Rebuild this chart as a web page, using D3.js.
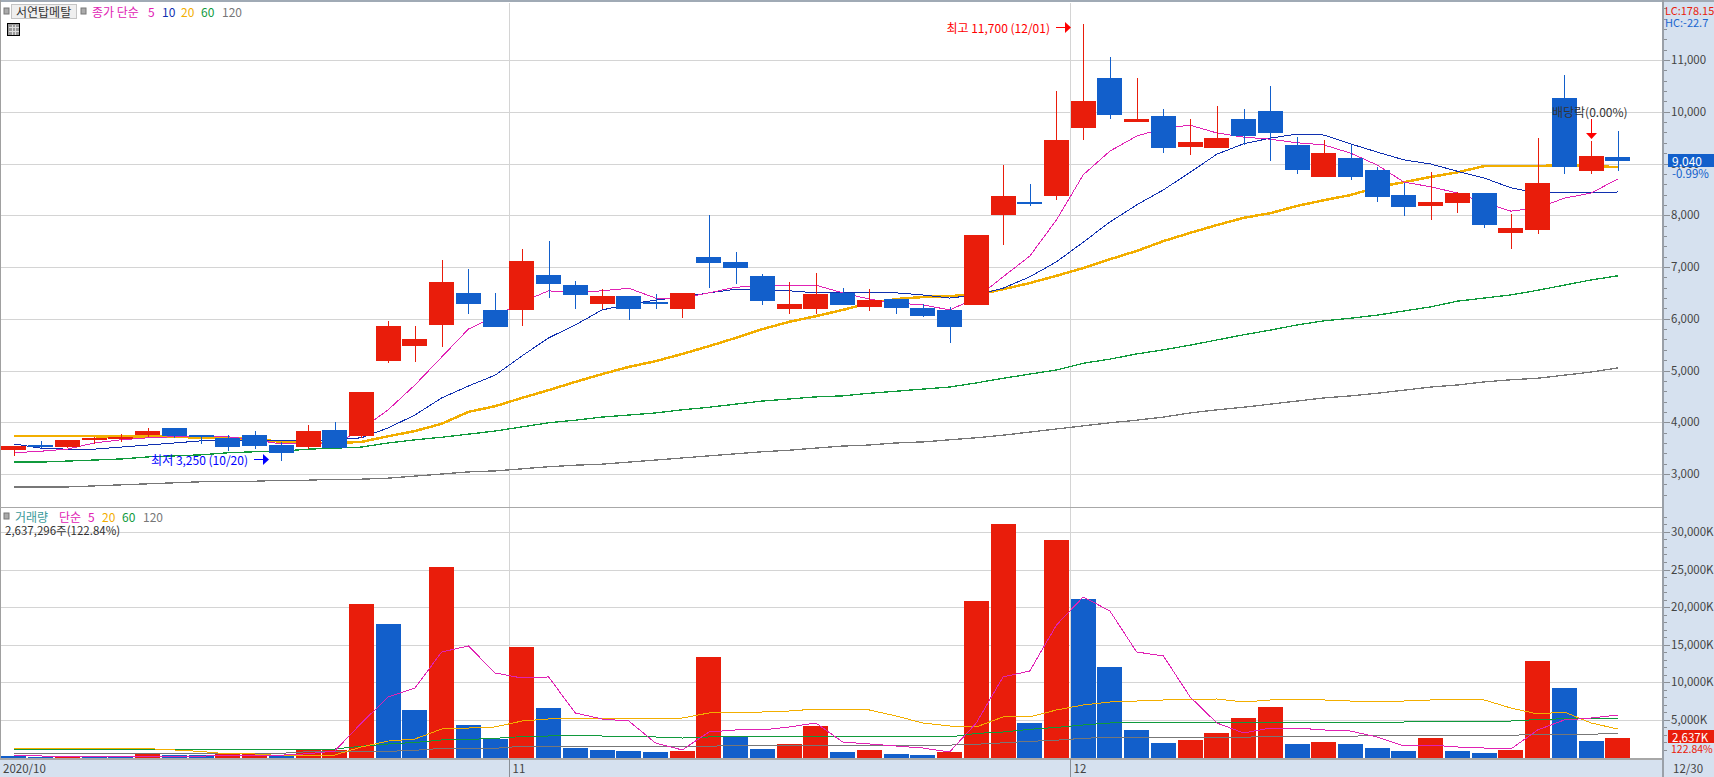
<!DOCTYPE html>
<html>
<head>
<meta charset="utf-8">
<script src="https://cdn.jsdelivr.net/npm/d3@7"></script>
<style>
html, body { margin: 0; padding: 0; background: #fff; overflow: hidden; }
svg { display: block; }
text { font-family: "Noto Sans CJK KR", "Noto Sans", sans-serif; font-size: 12px; }
.grid line { stroke: #d4d4d4; stroke-width: 1; shape-rendering: crispEdges; }
.axis path { display: none; }
.axis line { stroke: #8a8f96; shape-rendering: crispEdges; }
.axis text { fill: #444; font-size: 11.5px; }
.ma { fill: none; shape-rendering: crispEdges; }
</style>
</head>
<body>
<svg id="chart" width="1714" height="777"></svg>
<script>
// candles, 2020/10 .. 12/30
var opens = [3460,3560,3520,3660,3680,3750,3890,3750,3700,3750,3560,3520,3850,3730,5180,5470,5880,6500,6170,6170,6850,6650,6280,6440,6320,6190,7190,7100,6830,6190,6190,6500,6230,6380,6210,6170,6270,8000,8260,8370,9690,10650,9800,9920,9320,9300,9860,10010,9360,8740,9110,8870,8390,8180,8240,8430,7660,7710,10260,8850,9130];
var highs = [3540,3640,3660,3720,3770,3890,3890,3750,3750,3830,3620,3950,4000,4580,5960,5860,7130,6960,6500,7350,7500,6730,6570,6440,6480,6500,8000,7290,6860,6710,6880,6590,6570,6380,6280,6230,7620,8970,8600,10400,11700,11060,10650,10050,9860,10110,10050,10500,9510,9450,9360,8930,8620,8840,8450,8430,8020,9490,10710,9430,9630];
var lows = [3350,3500,3500,3580,3620,3720,3700,3580,3440,3480,3250,3480,3500,3700,5150,5160,5450,6090,5840,5860,6400,6190,6190,5980,6190,6010,6590,6670,6270,6090,6090,6270,6150,6090,6030,5530,6270,7420,8180,8290,9450,9860,9800,9200,9160,9300,9360,9050,8800,8740,8680,8260,7990,7910,8040,7750,7350,7640,8800,8800,8860];
var closes = [3540,3520,3660,3700,3720,3830,3730,3720,3520,3540,3410,3830,3500,4580,5860,5610,6710,6280,5840,7110,6670,6460,6440,6190,6280,6500,7080,6980,6340,6280,6480,6270,6360,6210,6050,5840,7620,8370,8220,9450,10210,9940,9860,9300,9410,9490,9530,9590,8870,9200,8740,8350,8160,8260,8430,7810,7750,8620,8930,9140,9040];

// price moving averages
var ma5 = [3410,3440,3480,3600,3660,3700,3720,3730,3720,3660,3580,3600,3560,3870,4240,4720,5260,5800,6050,6320,6540,6500,6540,6590,6400,6400,6500,6610,6630,6650,6650,6500,6380,6300,6270,6170,6400,6810,7210,7910,8780,9240,9530,9680,9740,9590,9510,9470,9400,9360,9200,8970,8640,8550,8430,8240,8080,8140,8330,8430,8700];
var ma10 = [3580,3500,3480,3480,3520,3560,3600,3640,3640,3640,3640,3640,3660,3700,3890,4140,4470,4700,4910,5280,5630,5880,6170,6280,6360,6420,6500,6570,6570,6540,6500,6500,6500,6500,6460,6400,6460,6590,6810,7100,7480,7870,8200,8490,8830,9180,9380,9490,9570,9550,9380,9220,9070,8990,8850,8720,8530,8430,8430,8430,8450];
var ma20 = [3730,3730,3730,3730,3720,3720,3720,3700,3700,3680,3620,3600,3600,3620,3730,3830,3970,4200,4310,4470,4620,4780,4930,5070,5180,5320,5470,5630,5800,5940,6050,6170,6300,6380,6420,6440,6460,6570,6690,6830,6980,7150,7310,7500,7660,7810,7950,8040,8180,8290,8390,8540,8640,8740,8830,8950,8950,8950,8970,8950,8930];
var ma60 = [3230,3230,3250,3270,3290,3330,3350,3370,3410,3430,3440,3480,3500,3520,3600,3660,3710,3770,3830,3910,3990,4040,4100,4140,4180,4240,4290,4350,4410,4450,4490,4510,4560,4600,4640,4680,4760,4850,4930,5010,5140,5220,5320,5400,5490,5590,5690,5780,5880,5960,6010,6070,6150,6230,6340,6400,6460,6550,6650,6750,6830];
var ma120 = [2750,2750,2750,2770,2790,2810,2830,2850,2850,2860,2880,2880,2900,2900,2920,2960,3000,3040,3060,3100,3140,3170,3190,3230,3270,3310,3350,3390,3430,3460,3500,3540,3560,3600,3620,3660,3700,3750,3810,3870,3930,3990,4040,4100,4180,4240,4290,4350,4410,4470,4510,4560,4620,4680,4720,4780,4820,4850,4910,4970,5050];

// volume in K and its moving averages
var volumes = [200,130,160,110,100,500,300,290,430,500,240,1000,1010,20420,17760,6320,25280,4320,2420,14700,6580,1260,1000,860,730,860,13370,2690,1130,1800,4190,730,1000,470,330,730,20810,31060,4590,28930,21080,12040,3660,1930,2330,3260,5250,6720,1800,2060,1800,1260,860,2590,860,600,1000,12830,9240,2190,2637];
var vol5 = [270,200,160,160,130,190,190,190,240,310,310,500,860,4590,8050,9240,14030,14830,11240,10570,10710,5920,5120,4850,1930,1000,3390,3660,3660,4060,4590,2060,1800,1530,1260,730,4590,10710,11500,17620,21350,19480,14030,13500,8050,4590,3260,3920,3920,3660,3520,2730,1530,1660,1400,1260,1130,3660,4990,5250,5650];
var vol20 = [1250,1250,1180,1180,1180,1180,1000,800,470,470,250,250,330,1400,2190,2460,3790,3920,4060,4850,5120,5120,5250,5250,5250,5250,5920,6050,6050,6180,6450,6320,6320,5520,4590,4190,4060,5390,5390,6320,6980,7380,7510,7650,7650,7780,7380,7650,7650,7650,7510,7510,7510,7650,7650,7650,6580,5790,6050,4590,3790];
var vol60 = [1130,1130,1130,1130,1130,1130,1130,1130,1130,1130,1130,1130,1130,1500,1800,2000,2330,2400,2550,2780,2860,2860,2860,2730,2730,2590,2730,2730,2730,2730,2730,2730,2730,2730,2730,2730,3200,3390,3750,4000,4320,4590,4590,4590,4590,4720,4720,4720,4720,4720,4720,4720,4720,4850,4850,4850,4850,5050,5150,5250,5250];
var vol120 = [560,560,560,560,560,560,560,560,560,560,560,770,800,820,820,950,1220,1220,1220,1490,1490,1490,1490,1490,1490,1490,1490,1620,1620,1620,1620,1620,1620,1620,1620,1650,1760,1950,2150,2300,2550,2690,2690,2690,2690,2690,2690,2820,2820,2820,2820,2950,2950,2950,2950,2950,2950,3090,3090,3090,3220];

// tick labels
var priceTicks = [3000,4000,5000,6000,7000,8000,9000,10000,11000];
var volumeTicks = [5000,10000,15000,20000,25000,30000];
var monthStarts = [{i:19, label:"11"},{i:40, label:"12"}];

var RED = "#e91d0b", BLUE = "#125fcb";
var C5 = "#e022b4", C10 = "#1030b0", C20 = "#f2ae00", C60 = "#109a3c", C120 = "#777777";

var svg = d3.select("#chart");
var axisX = 1663, stripY = 759;

var x = d3.scaleBand()
    .domain(d3.range(closes.length))
    .range([0.6, 1631.2])
    .paddingInner(0.065)
    .paddingOuter(0.0325);
function cx(i){ return x(i) + x.bandwidth() / 2; }
function monthX(i){ return Math.floor(x(i)) + 0.5; }

var yPrice = d3.scaleLinear().domain([3000, 11000]).range([474, 60]);
var yVol = d3.scaleLinear().domain([0, 30000]).range([757.5, 531.9]);

// backgrounds
svg.append("rect").attr("x", axisX).attr("y", 0).attr("width", 1714 - axisX).attr("height", 777).attr("fill", "#d6e1ef");
svg.append("rect").attr("x", 0).attr("y", stripY).attr("width", 1714).attr("height", 777 - stripY).attr("fill", "#d6e1ef");

// grid
var grid = svg.append("g").attr("class", "grid");
grid.selectAll(".gp").data(priceTicks).enter().append("line")
    .attr("x1", 1).attr("x2", axisX)
    .attr("y1", function(d){ return Math.round(yPrice(d)) + 0.5; })
    .attr("y2", function(d){ return Math.round(yPrice(d)) + 0.5; });
grid.selectAll(".gv").data(volumeTicks).enter().append("line")
    .attr("x1", 1).attr("x2", axisX)
    .attr("y1", function(d){ return Math.round(yVol(d)) + 0.5; })
    .attr("y2", function(d){ return Math.round(yVol(d)) + 0.5; });
grid.selectAll(".gm").data(monthStarts).enter().append("line")
    .attr("x1", function(d){ return monthX(d.i); })
    .attr("x2", function(d){ return monthX(d.i); })
    .attr("y1", 3).attr("y2", stripY);

// price lines sit under the candles
var linePrice = d3.line().x(function(d, i){ return cx(i); }).y(function(d){ return yPrice(d); });
var lineVol = d3.line().x(function(d, i){ return cx(i); }).y(function(d){ return yVol(d); });

[[ma120, C120, 1.3],[ma60, C60, 1.3],[ma20, C20, 2.5],[ma10, C10, 1],[ma5, C5, 1]].forEach(function(s){
    svg.append("path").datum(s[0]).attr("class", "ma")
        .attr("d", linePrice).attr("stroke", s[1]).attr("stroke-width", s[2]);
});

// candles
var candles = svg.append("g").selectAll("g").data(closes).enter().append("g")
    .attr("fill", function(d, i){ return d >= opens[i] ? RED : BLUE; })
    .attr("stroke", "none");
candles.append("rect")
    .attr("shape-rendering", "crispEdges")
    .attr("x", function(d, i){ return Math.round(cx(i)); })
    .attr("width", 1)
    .attr("y", function(d, i){ return yPrice(highs[i]); })
    .attr("height", function(d, i){ return yPrice(lows[i]) - yPrice(highs[i]); });
candles.append("rect")
    .attr("shape-rendering", "crispEdges")
    .attr("x", function(d, i){ return Math.round(x(i)); })
    .attr("width", x.bandwidth())
    .attr("y", function(d, i){ return yPrice(Math.max(d, opens[i])); })
    .attr("height", function(d, i){ return Math.abs(yPrice(d) - yPrice(opens[i])); });

// volume bars, lines sit on top here
svg.append("g").selectAll("rect").data(volumes).enter().append("rect")
    .attr("shape-rendering", "crispEdges")
    .attr("x", function(d, i){ return Math.round(x(i)); })
    .attr("width", x.bandwidth())
    .attr("y", function(d){ return yVol(d); })
    .attr("height", function(d){ return yVol(0) - yVol(d); })
    .attr("fill", function(d, i){ return i > 0 && d > volumes[i - 1] ? RED : BLUE; });

[[vol120, C120],[vol60, C60],[vol20, C20],[vol5, C5]].forEach(function(s){
    svg.append("path").datum(s[0]).attr("class", "ma")
        .attr("d", lineVol).attr("stroke", s[1]).attr("stroke-width", 1);
});

// frame
svg.append("rect").attr("x", 0).attr("y", 0).attr("width", 1714).attr("height", 2).attr("fill", "#a0aab5");
svg.append("rect").attr("x", 0).attr("y", 0).attr("width", 1).attr("height", 759).attr("fill", "#a0a0a0");
svg.append("rect").attr("x", 0).attr("y", 507).attr("width", axisX).attr("height", 1).attr("fill", "#a8a8a8");
svg.append("rect").attr("x", 0).attr("y", 758).attr("width", axisX).attr("height", 2).attr("fill", "#a8a8a8");
svg.append("rect").attr("x", axisX - 1).attr("y", 0).attr("width", 2).attr("height", 777).attr("fill", "#9aa0a8");

// right axes
var priceMinor = d3.range(2400, 12400, 200).filter(function(d){ return yPrice(d) > 8 && yPrice(d) < 505; });
var volMinor = d3.range(0, 33000, 1000).filter(function(d){ return yVol(d) > 510 && yVol(d) < 757; });

svg.append("g").attr("class", "axis").attr("transform", "translate(" + (axisX + 1) + ",0)")
    .call(d3.axisRight(yPrice).tickValues(priceMinor).tickSize(3))
    .selectAll("text").remove();
svg.append("g").attr("class", "axis").attr("transform", "translate(" + (axisX + 1) + ",0)")
    .call(d3.axisRight(yVol).tickValues(volMinor).tickSize(3))
    .selectAll("text").remove();
svg.append("g").attr("class", "axis").attr("transform", "translate(" + (axisX + 1) + ",0)")
    .call(d3.axisRight(yPrice).tickValues(priceTicks).tickSize(6).tickPadding(1).tickFormat(d3.format(",")));
svg.append("g").attr("class", "axis").attr("transform", "translate(" + (axisX + 1) + ",0)")
    .call(d3.axisRight(yVol).tickValues(volumeTicks).tickSize(6).tickPadding(1).tickFormat(function(d){ return d3.format(",")(d) + "K"; }));

// date strip
function label(txt, px, py, color, anchor, size){
    return svg.append("text").attr("x", px).attr("y", py).attr("fill", color)
        .attr("text-anchor", anchor || "start").attr("dominant-baseline", "central")
        .style("font-size", (size || 12) + "px").text(txt);
}
label("2020/10", 3, 768, "#444", "start", 11.5);
label("12/30", 1673, 768, "#444", "start", 11.5);
monthStarts.forEach(function(m){
    var px = monthX(m.i);
    svg.append("line").attr("x1", px).attr("x2", px).attr("y1", stripY).attr("y2", 777)
        .attr("stroke", "#8a8f96").attr("shape-rendering", "crispEdges");
    label(m.label, px + 3, 768, "#444", "start", 11.5);
});

// top legend
svg.append("rect").attr("x", 4).attr("y", 8).attr("width", 5).attr("height", 6).attr("fill", "#aaa").attr("stroke", "#777");
svg.append("rect").attr("x", 11.5).attr("y", 4.5).attr("width", 65).attr("height", 14).attr("fill", "#efefef").attr("stroke", "#c4c4c4");
svg.append("rect").attr("x", 81).attr("y", 8).attr("width", 5).attr("height", 6).attr("fill", "#aaa").attr("stroke", "#777");
label("서연탑메탈", 16, 11.5, "#333");
label("종가 단순", 92, 11.5, C5);
label("5", 148, 11.5, C5);
label("10", 162, 11.5, C10);
label("20", 181, 11.5, C20);
label("60", 201, 11.5, C60);
label("120", 222, 11.5, C120);

// little table icon
svg.append("rect").attr("x", 7.5).attr("y", 23.5).attr("width", 12).attr("height", 12).attr("fill", "#999").attr("stroke", "#000");
[12, 15].forEach(function(v){
    svg.append("line").attr("x1", v + 0.5).attr("x2", v + 0.5).attr("y1", 25).attr("y2", 35).attr("stroke", "#ddd");
});
[27, 31].forEach(function(v){
    svg.append("line").attr("x1", 9).attr("x2", 19).attr("y1", v + 0.5).attr("y2", v + 0.5).attr("stroke", "#ddd");
});

// volume legend
svg.append("rect").attr("x", 4).attr("y", 513).attr("width", 5).attr("height", 6).attr("fill", "#aaa").attr("stroke", "#777");
label("거래량", 15, 516, "#3a9a9a");
label("단순", 59, 516, C5);
label("5", 88, 516, C5);
label("20", 102, 516, C20);
label("60", 122, 516, C60);
label("120", 143, 516, C120);
label("2,637,296주(122.84%)", 5, 530, "#333", "start", 11.5);

// corner readouts
label("LC:178.15", 1665, 10, "#e91d0b", "start", 11);
label("HC:-22.7", 1665, 22, "#1a66d0", "start", 11);

// last value tags
svg.append("rect").attr("x", 1668).attr("y", 154).attr("width", 46).attr("height", 13).attr("fill", BLUE);
label("9,040", 1672, 160.5, "#fff");
label("-0.99%", 1672, 173, BLUE, "start", 11.5);
svg.append("rect").attr("x", 1668).attr("y", 730).attr("width", 46).attr("height", 13).attr("fill", RED);
label("2,637K", 1672, 736.5, "#fff", "start", 11.5);
label("122.84%", 1671, 748, RED, "start", 10.5);

// high / low notes
function note(txt, i, py, color){
    var tip = Math.round(x(i));
    label(txt, tip - 21, py, color, "end");
    svg.append("line").attr("x1", tip - 15).attr("x2", tip - 5).attr("y1", py + 0.5).attr("y2", py + 0.5)
        .attr("stroke", color).attr("shape-rendering", "crispEdges");
    svg.append("path").attr("fill", color)
        .attr("d", "M" + (tip - 6) + "," + (py - 5) + "L" + (tip) + "," + (py + 0.5) + "L" + (tip - 6) + "," + (py + 6) + "Z");
}
note("최저 3,250 (10/20)", 10, 459, "#0000ff");
note("최고 11,700 (12/01)", 40, 27, "#ff0000");

// ex-dividend marker
var exX = Math.round(cx(59));
label("배당락(0.00%)", 1552, 111, "#333");
svg.append("rect").attr("x", exX).attr("y", 119).attr("width", 1).attr("height", 14).attr("fill", "#ff0000");
svg.append("path").attr("fill", "#ff0000")
    .attr("d", "M" + (exX - 5) + ",133L" + (exX + 6) + ",133L" + (exX + 0.5) + ",139Z");
</script>
</body>
</html>
